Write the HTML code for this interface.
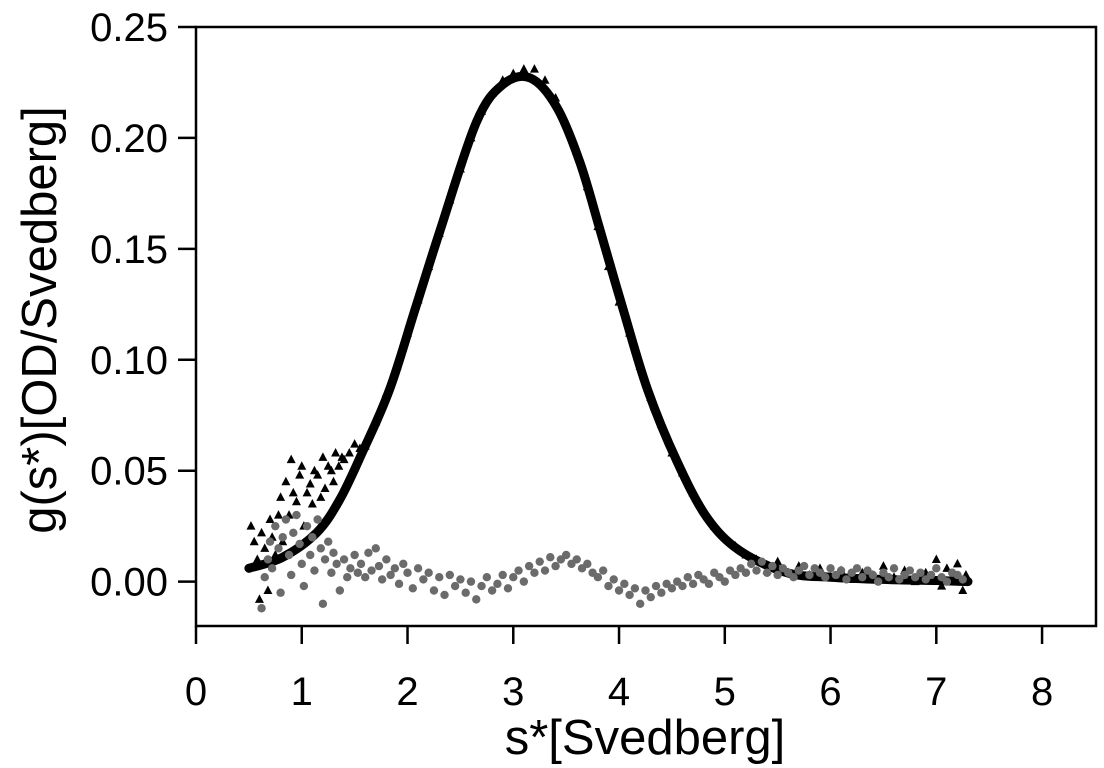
<!DOCTYPE html>
<html><head><meta charset="utf-8"><style>
html,body{margin:0;padding:0;background:#fff;}
svg{display:block;font-family:"Liberation Sans",Arial,sans-serif;}
</style></head><body>
<svg id="chart" width="1104" height="768">
</svg>
<script>
const xTicks=[0,1,2,3,4,5,6,7,8];
const yTicks=[0,0.05,0.10,0.15,0.20,0.25];
const yTickLabels=["0.00","0.05","0.10","0.15","0.20","0.25"];
const fitS=[0.5,0.82,1.14,1.36,1.58,1.83,2.07,2.31,2.65,2.9,3.16,3.41,3.63,3.82,4.04,4.27,4.55,4.83,5.14,5.59,6.0,6.5,7.0,7.3];
const fitY=[0.006,0.011,0.022,0.037,0.059,0.0865,0.1225,0.1586,0.207,0.224,0.227,0.214,0.189,0.1586,0.1225,0.0865,0.054,0.029,0.014,0.004,0.002,0.001,0.0005,0.0];
const triS=[0.52,0.55,0.58,0.6,0.62,0.65,0.68,0.7,0.72,0.75,0.78,0.8,0.82,0.85,0.88,0.9,0.92,0.95,0.98,1.0,1.02,1.05,1.08,1.1,1.12,1.15,1.18,1.2,1.22,1.25,1.28,1.3,1.32,1.35,1.38,1.4,1.45,1.5,1.55,1.6,1.7,1.8,1.9,2.0,2.1,2.2,2.3,2.4,2.5,2.6,2.7,2.8,2.9,3.0,3.1,3.2,3.3,3.4,3.5,3.6,3.7,3.8,3.9,4.0,4.1,4.2,4.3,4.4,4.5,4.6,4.7,4.8,4.9,5.0,5.1,5.2,5.3,5.4,5.5,5.6,5.7,5.8,5.9,6.0,6.1,6.2,6.3,6.4,6.5,6.6,6.7,6.8,6.9,7.0,7.05,7.1,7.15,7.2,7.25,7.28];
const triY=[0.025,0.018,0.010,-0.008,0.022,0.015,-0.004,0.028,0.020,0.012,0.030,0.038,0.018,0.045,0.030,0.055,0.040,0.036,0.048,0.052,0.025,0.040,0.044,0.035,0.050,0.048,0.038,0.056,0.042,0.052,0.050,0.045,0.058,0.052,0.056,0.055,0.058,0.062,0.060,0.061,0.072,0.085,0.097,0.112,0.127,0.142,0.157,0.172,0.186,0.200,0.212,0.220,0.226,0.229,0.231,0.231,0.226,0.218,0.207,0.194,0.178,0.160,0.142,0.126,0.112,0.097,0.083,0.071,0.058,0.049,0.040,0.032,0.025,0.020,0.016,0.012,0.010,0.005,0.009,0.004,0.007,0.003,0.006,0.002,0.005,0.001,0.004,0.003,0.007,0.002,0.005,0.000,0.004,0.010,-0.002,0.006,0.001,0.008,-0.004,0.003];
const dotS=[0.62,0.65,0.68,0.7,0.72,0.75,0.78,0.8,0.82,0.85,0.88,0.9,0.92,0.95,0.98,1.0,1.02,1.05,1.08,1.1,1.12,1.15,1.18,1.2,1.22,1.25,1.28,1.3,1.33,1.36,1.4,1.43,1.46,1.5,1.53,1.56,1.6,1.63,1.66,1.7,1.73,1.76,1.8,1.84,1.88,1.92,1.96,2.0,2.05,2.1,2.15,2.2,2.25,2.3,2.35,2.4,2.45,2.5,2.55,2.6,2.65,2.7,2.75,2.8,2.85,2.9,2.95,3.0,3.05,3.1,3.15,3.2,3.25,3.3,3.35,3.4,3.45,3.5,3.55,3.6,3.65,3.7,3.75,3.8,3.85,3.9,3.95,4.0,4.05,4.1,4.15,4.2,4.25,4.3,4.35,4.4,4.45,4.5,4.55,4.6,4.65,4.7,4.75,4.8,4.85,4.9,4.95,5.0,5.05,5.1,5.15,5.2,5.25,5.3,5.35,5.4,5.45,5.5,5.55,5.6,5.65,5.7,5.75,5.8,5.85,5.9,5.95,6.0,6.05,6.1,6.15,6.2,6.25,6.3,6.35,6.4,6.45,6.5,6.55,6.6,6.65,6.7,6.75,6.8,6.85,6.9,6.95,7.0,7.05,7.1,7.15,7.2,7.25];
const dotY=[-0.012,0.002,0.010,0.018,0.006,0.025,0.015,-0.005,0.020,0.028,0.012,0.003,0.022,0.030,0.017,0.008,-0.002,0.025,0.012,0.020,0.005,0.028,0.015,-0.010,0.010,0.018,0.004,0.013,0.008,-0.004,0.010,0.002,0.006,0.012,0.004,0.008,0.002,0.013,0.005,0.015,0.007,0.001,0.010,0.003,0.006,-0.001,0.008,0.004,-0.003,0.006,0.001,0.004,-0.004,0.002,-0.006,0.003,-0.002,0.001,-0.005,0.000,-0.008,-0.002,0.002,-0.004,-0.001,0.003,-0.003,0.002,0.005,0.000,0.007,0.004,0.009,0.005,0.011,0.007,0.010,0.012,0.008,0.010,0.006,0.008,0.004,0.002,0.005,-0.002,0.001,-0.004,-0.001,-0.006,-0.003,-0.010,-0.004,-0.007,-0.002,-0.005,-0.001,-0.003,0.000,-0.002,0.002,-0.001,0.003,0.001,-0.001,0.004,0.002,0.000,0.005,0.003,0.006,0.004,0.008,0.005,0.009,0.004,0.007,0.003,0.006,0.004,0.002,0.005,0.007,0.003,0.006,0.004,0.002,0.006,0.003,0.005,0.001,0.004,0.006,0.002,0.005,0.003,0.000,0.004,0.002,0.006,0.001,0.003,0.005,0.002,0.004,0.001,0.003,0.006,0.002,0.000,0.004,0.003,0.001,0.002];

const NS='http://www.w3.org/2000/svg';
const svg=document.getElementById('chart');
const X0=196,X1=1096,Y0=27,Y1=626;
const xMin=0,xMax=8.51,yMin=-0.02,yMax=0.25;
function sx(v){return X0+(v-xMin)/(xMax-xMin)*(X1-X0);}
function sy(v){return Y1-(v-yMin)/(yMax-yMin)*(Y1-Y0);}
function mk(tag,attrs,parent){const e=document.createElementNS(NS,tag);for(const k in attrs)e.setAttribute(k,attrs[k]);(parent||svg).appendChild(e);return e;}

const gTri=mk('g',{});


for(let i=0;i<triS.length;i++){
  const x=sx(triS[i]),y=sy(triY[i]);
  const t=mk('polygon',{points:`${x},${y-5} ${x-4.5},${y+3.5} ${x+4.5},${y+3.5}`,fill:'#000'},gTri);
  
  
}
const P=fitS.map((s,i)=>[sx(s),sy(fitY[i])]);
let d='M'+P[0][0].toFixed(1)+','+P[0][1].toFixed(1);
for(let i=0;i<P.length-1;i++){
  const p0=P[Math.max(0,i-1)],p1=P[i],p2=P[i+1],p3=P[Math.min(P.length-1,i+2)];
  const c1=[p1[0]+(p2[0]-p0[0])/6,p1[1]+(p2[1]-p0[1])/6];
  const c2=[p2[0]-(p3[0]-p1[0])/6,p2[1]-(p3[1]-p1[1])/6];
  d+=`C${c1[0].toFixed(1)},${c1[1].toFixed(1)} ${c2[0].toFixed(1)},${c2[1].toFixed(1)} ${p2[0].toFixed(1)},${p2[1].toFixed(1)}`;
}
const fit=mk('path',{d:d,fill:'none',stroke:'#000','stroke-width':9,'stroke-linejoin':'round','stroke-linecap':'round'});


const gDots=mk('g',{});


for(let i=0;i<dotS.length;i++){
  const c=mk('circle',{cx:sx(dotS[i]),cy:sy(dotY[i]),r:4.2,fill:'#6b6b6b'},gDots);
  
  
}

const fr=mk('rect',{x:X0,y:Y0,width:X1-X0,height:Y1-Y0,fill:'none',stroke:'#000','stroke-width':2.5});



xTicks.forEach(v=>{
  const x=sx(v);
  const l=mk('line',{x1:x,y1:Y1,x2:x,y2:Y1+18,stroke:'#000','stroke-width':2.5});
  
  
  const t=mk('text',{x:x,y:705,'text-anchor':'middle','font-size':40,fill:'#000'});
  t.textContent=String(v);
  
  
});
yTicks.forEach((v,i)=>{
  const y=sy(v);
  const l=mk('line',{x1:X0-18,y1:y,x2:X0,y2:y,stroke:'#000','stroke-width':2.5});
  
  
  const t=mk('text',{x:168,y:y+14,'text-anchor':'end','font-size':40,fill:'#000'});
  t.textContent=yTickLabels[i];
  
  
});
const xt=mk('text',{x:645,y:754,'text-anchor':'middle','font-size':49,fill:'#000'});
xt.textContent='s*[Svedberg]';


const yt=mk('text',{x:0,y:0,'text-anchor':'middle','font-size':49,fill:'#000',transform:'translate(56,320) rotate(-90)'});
yt.textContent='g(s*)[OD/Svedberg]';


</script>
</body></html>
